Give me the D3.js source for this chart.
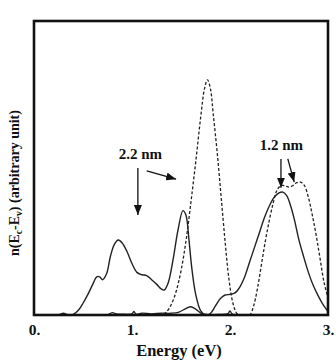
<!DOCTYPE html>
<html>
<head>
<meta charset="utf-8">
<script src="https://cdn.jsdelivr.net/npm/d3@7"></script>
<style>
  body { margin: 0; background: #fff; }
  text { font-family: "Liberation Serif", "DejaVu Serif", serif; font-weight: bold; fill: #111; }
</style>
</head>
<body>
<div id="chart"></div>
<script>
// data (energy in eV, density in arbitrary unit)
const solidE = [0.0, 0.25, 0.3, 0.35, 0.40, 0.45, 0.50, 0.55, 0.60, 0.64, 0.67, 0.70, 0.74, 0.78, 0.82, 0.86, 0.90, 0.95, 1.00, 1.05, 1.10, 1.15, 1.20, 1.25, 1.30, 1.33, 1.37, 1.42, 1.47, 1.52, 1.55, 1.58, 1.61, 1.65, 1.70, 1.75, 1.80, 1.85, 1.90, 1.95, 2.00, 2.05, 2.10, 2.15, 2.20, 2.25, 2.30, 2.35, 2.40, 2.45, 2.50, 2.54, 2.58, 2.62, 2.66, 2.70, 2.75, 2.80, 2.85, 2.90, 2.95, 3.0];
const solidN = [0, 0, 0.006, 0, 0.002, 0.015, 0.04, 0.07, 0.105, 0.13, 0.13, 0.12, 0.14, 0.2, 0.24, 0.255, 0.245, 0.215, 0.175, 0.145, 0.137, 0.134, 0.12, 0.105, 0.088, 0.085, 0.11, 0.19, 0.29, 0.355, 0.34, 0.26, 0.16, 0.07, 0.015, 0.0, 0.005, 0.03, 0.055, 0.068, 0.07, 0.075, 0.095, 0.13, 0.18, 0.23, 0.28, 0.33, 0.37, 0.40, 0.415, 0.418, 0.405, 0.37, 0.32, 0.26, 0.2, 0.145, 0.1, 0.065, 0.035, 0.012];

const dashE = [0, 1.30, 1.35, 1.40, 1.45, 1.50, 1.55, 1.60, 1.65, 1.70, 1.74, 1.77, 1.80, 1.83, 1.87, 1.91, 1.95, 1.99, 2.03, 2.07, 2.10, 2.20, 2.24, 2.28, 2.32, 2.36, 2.40, 2.44, 2.48, 2.52, 2.56, 2.60, 2.64, 2.68, 2.72, 2.76, 2.80, 2.84, 2.88, 2.92, 2.96, 3.0];
const dashN = [0, 0, 0.01, 0.035, 0.08, 0.15, 0.25, 0.38, 0.52, 0.67, 0.77, 0.80, 0.77, 0.68, 0.55, 0.40, 0.25, 0.12, 0.04, 0.005, 0, 0, 0.03, 0.09, 0.17, 0.25, 0.32, 0.38, 0.425, 0.44, 0.44, 0.435, 0.44, 0.45, 0.452, 0.44, 0.40, 0.34, 0.27, 0.19, 0.11, 0.06];

// low noisy trace along the baseline
const baseE = [0.75, 0.80, 0.84, 0.90, 1.00, 1.02, 1.04, 1.10, 1.20, 1.30, 1.40, 1.48, 1.55, 1.60, 1.65, 1.72, 1.90, 1.98, 2.00, 2.02, 2.10];
const baseN = [0, 0.008, 0.004, 0.003, 0.004, 0.012, 0.003, 0.006, 0.004, 0.006, 0.006, 0.01, 0.022, 0.028, 0.02, 0.004, 0.002, 0.005, 0.014, 0.004, 0];

const xTicks = [0, 1, 2, 3];

// annotations: label, label position, arrows [x1, y1, x2, y2] in data units
const labels = [
  {text: "2.2 nm", e: 1.085, n: 0.53},
  {text: "1.2 nm", e: 2.525, n: 0.561}
];
const arrows = [
  [1.06, 0.50, 1.06, 0.34],
  [1.15, 0.49, 1.45, 0.462],
  [2.52, 0.531, 2.52, 0.433],
  [2.59, 0.531, 2.655, 0.452]
];

const W = 336, H = 364;
const margin = {top: 21, right: 8, bottom: 49, left: 34};
const w = W - margin.left - margin.right, h = H - margin.top - margin.bottom;

const svg = d3.select("#chart").append("svg")
  .attr("width", W).attr("height", H);

const g = svg.append("g")
  .attr("transform", "translate(" + margin.left + "," + margin.top + ")");

const x = d3.scaleLinear().domain([0, 3]).range([0, w]);
const y = d3.scaleLinear().domain([0, 1]).range([h, 0]);

g.append("clipPath").attr("id", "clip")
  .append("rect").attr("width", w).attr("height", h);

const line = d3.line()
  .x(d => x(d[0])).y(d => y(d[1]))
  .curve(d3.curveCatmullRom.alpha(0.5));

const plot = g.append("g").attr("clip-path", "url(#clip)");

plot.append("path")
  .datum(d3.zip(baseE, baseN))
  .attr("d", line)
  .attr("fill", "none").attr("stroke", "#222").attr("stroke-width", 1.3);

plot.append("path")
  .datum(d3.zip(dashE, dashN))
  .attr("d", line)
  .attr("fill", "none").attr("stroke", "#222").attr("stroke-width", 1.3)
  .attr("stroke-dasharray", "3,2");

plot.append("path")
  .datum(d3.zip(solidE, solidN))
  .attr("d", line)
  .attr("fill", "none").attr("stroke", "#222").attr("stroke-width", 1.4);

// frame
g.append("rect")
  .attr("width", w).attr("height", h)
  .attr("fill", "none").attr("stroke", "#111").attr("stroke-width", 2.6);

// x axis labels
g.append("g")
  .attr("transform", "translate(0," + h + ")")
  .call(d3.axisBottom(x).tickValues(xTicks).tickSize(0).tickPadding(9).tickFormat(d => d + "."))
  .call(a => a.select(".domain").remove())
  .selectAll("text")
    .style("font-family", "Liberation Serif, serif")
    .style("font-weight", "bold")
    .style("font-size", "15.5px")
    .attr("fill", "#111");

svg.append("text")
  .attr("x", margin.left + w / 2 - 2).attr("y", 356)
  .attr("text-anchor", "middle")
  .style("font-size", "16.5px")
  .text("Energy (eV)");

// y axis title with subscripts
const yt = svg.append("text")
  .attr("transform", "translate(19,183) rotate(-90)")
  .attr("text-anchor", "middle")
  .style("font-size", "14px");
yt.append("tspan").text("n(E");
yt.append("tspan").attr("dy", 3).style("font-size", "9.5px").text("c");
yt.append("tspan").attr("dy", -3).text("-E");
yt.append("tspan").attr("dy", 3).style("font-size", "9.5px").text("v");
yt.append("tspan").attr("dy", -3).text(") (arbitrary unit)");

// annotations
svg.append("defs").append("marker")
  .attr("id", "head")
  .attr("viewBox", "0 0 10 10")
  .attr("refX", 10).attr("refY", 5)
  .attr("markerWidth", 10).attr("markerHeight", 8)
  .attr("markerUnits", "userSpaceOnUse")
  .attr("orient", "auto")
  .attr("preserveAspectRatio", "none")
  .append("path").attr("d", "M0,0 L10,5 L0,10 Z").attr("fill", "#111");

g.selectAll(".lbl").data(labels).enter().append("text")
  .attr("class", "lbl")
  .attr("x", d => x(d.e)).attr("y", d => y(d.n))
  .attr("text-anchor", "middle")
  .style("font-size", "15px")
  .text(d => d.text);

g.selectAll(".arr").data(arrows).enter().append("line")
  .attr("class", "arr")
  .attr("x1", d => x(d[0])).attr("y1", d => y(d[1]))
  .attr("x2", d => x(d[2])).attr("y2", d => y(d[3]))
  .attr("stroke", "#111").attr("stroke-width", 1.3)
  .attr("marker-end", "url(#head)");
</script>
</body>
</html>
